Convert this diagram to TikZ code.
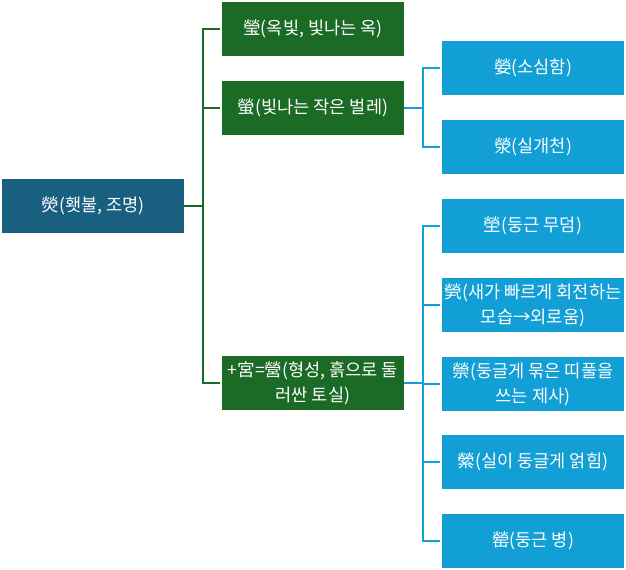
\documentclass[tikz,border=0pt]{standalone}
\usepackage{fontspec}
\setmainfont{Noto Sans CJK KR}
\definecolor{rootblue}{RGB}{24,95,128}
\definecolor{leafgreen}{RGB}{27,106,38}
\definecolor{leafblue}{RGB}{17,159,213}
\begin{document}
\begin{tikzpicture}[x=0.02cm, y=-0.02cm, every node/.style={rectangle, minimum width=3.64cm, minimum height=1.08cm, inner sep=0pt, text=white, align=center, font=\fontsize{10}{14.2}\selectfont}, root/.style={fill=rootblue}, mid/.style={fill=leafgreen}, leaf/.style={fill=leafblue}, gline/.style={draw=leafgreen, line width=0.04cm, shorten >=0.04cm}, bline/.style={draw=leafblue, line width=0.04cm, shorten >=0.04cm}]
		\useasboundingbox (0,0) rectangle (626,570);
		\node[root] (ying) at (93, 206) {熒(횃불, 조명)};
		\node[mid] (jade) at (313, 29) {瑩(옥빛, 빛나는 옥)};
		\node[mid] (firefly) at (313, 108) {螢(빛나는 작은 벌레)};
		\node[mid] (camp) at (313, 383) {+宮=營(형성, 흙으로 둘\\러싼 토실)};
		\node[leaf] (timid) at (533, 68) {嫈(소심함)};
		\node[leaf] (stream) at (533, 147) {滎(실개천)};
		\node[leaf] (tomb) at (533, 226) {塋(둥근 무덤)};
		\node[leaf] (lonely) at (533, 305) {煢(새가 빠르게 회전하는\\모습→외로움)};
		\node[leaf] (rite) at (533, 384) {禜(둥글게 묶은 띠풀을\\쓰는 제사)};
		\node[leaf] (thread) at (533, 462) {縈(실이 둥글게 얽힘)};
		\node[leaf] (jar) at (533, 541) {罃(둥근 병)};
		\coordinate (trunk) at (203, 206);
		\coordinate (fork1) at (423, 108);
		\coordinate (fork2) at (423, 383);
		\draw[gline, shorten >=0pt] (ying.east) -- (trunk);
		\foreach \n in {jade, firefly, camp}
			\draw[gline] (trunk) |- (\n.west);
		\draw[bline, shorten >=0pt] (firefly.east) -- (fork1);
		\foreach \n in {timid, stream}
			\draw[bline] (fork1) |- (\n.west);
		\draw[bline, shorten >=0pt] (camp.east) -- (fork2);
		\foreach \n in {tomb, lonely, rite, thread, jar}
			\draw[bline] (fork2) |- (\n.west);
	\end{tikzpicture}
\end{document}
